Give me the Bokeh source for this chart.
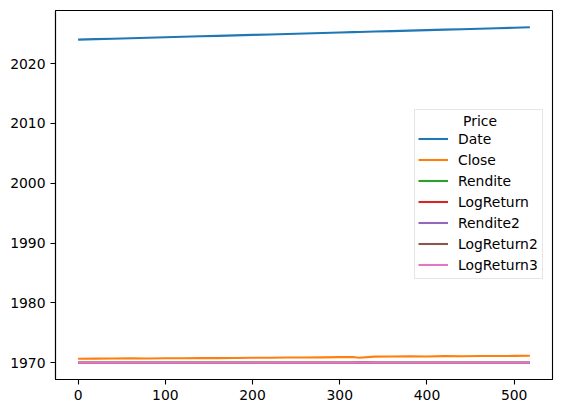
from datetime import date
from bokeh.plotting import figure
from bokeh.models import Range1d, FixedTicker, Legend, LegendItem, ColumnDataSource, Label
from bokeh.embed import file_html
from bokeh.resources import INLINE

# ---- data (sampled rows of the DataFrame, y in matplotlib date units = days) ----
idx = [0, 20, 40, 60, 80, 100, 120, 140, 160, 180, 200, 220, 240, 260, 280,
       300, 315, 322, 340, 360, 380, 400, 420, 440, 460, 480, 500, 518]
dates = ["2024-01-02", "2024-01-31", "2024-02-29", "2024-03-28", "2024-04-26",
         "2024-05-24", "2024-06-24", "2024-07-23", "2024-08-21", "2024-09-19",
         "2024-10-18", "2024-11-15", "2024-12-13", "2025-01-14", "2025-02-12",
         "2025-03-13", "2025-04-03", "2025-04-14", "2025-05-09", "2025-06-06",
         "2025-07-07", "2025-08-05", "2025-09-03", "2025-10-02", "2025-10-31",
         "2025-11-28", "2025-12-29", "2026-01-26"]
close = [245, 250, 255, 262, 258, 268, 275, 280, 278, 290, 300, 305, 315, 320,
         325, 340, 345, 300, 370, 375, 385, 380, 400, 398, 405, 408, 415, 425]
rendite = [0.0, 0.004, -0.006, 0.008, -0.012, 0.005, 0.003, -0.002, 0.007, 0.004,
           0.006, -0.003, 0.002, 0.005, -0.004, -0.008, -0.02, 0.03, 0.006, 0.002,
           0.004, -0.005, 0.007, -0.001, 0.003, 0.002, 0.004, 0.006]
logreturn = [0.0, 0.004, -0.006, 0.008, -0.012, 0.005, 0.003, -0.002, 0.007, 0.004,
             0.006, -0.003, 0.002, 0.005, -0.004, -0.008, -0.02, 0.029, 0.006, 0.002,
             0.004, -0.005, 0.007, -0.001, 0.003, 0.002, 0.004, 0.006]
rendite2 = [0.0, 0.4, -0.6, 0.8, -1.2, 0.5, 0.3, -0.2, 0.7, 0.4,
            0.6, -0.3, 0.2, 0.5, -0.4, -0.8, -2.0, 3.0, 0.6, 0.2,
            0.4, -0.5, 0.7, -0.1, 0.3, 0.2, 0.4, 0.6]
logreturn2 = [0.0, 0.4, -0.6, 0.8, -1.2, 0.5, 0.3, -0.2, 0.7, 0.4,
              0.6, -0.3, 0.2, 0.5, -0.4, -0.8, -2.0, 2.9, 0.6, 0.2,
              0.4, -0.5, 0.7, -0.1, 0.3, 0.2, 0.4, 0.6]
logreturn3 = [0.0, 0.4, -0.6, 0.8, -1.2, 0.5, 0.3, -0.2, 0.7, 0.4,
              0.6, -0.3, 0.2, 0.5, -0.4, -0.8, -2.0, 2.9, 0.6, 0.2,
              0.4, -0.5, 0.7, -0.1, 0.3, 0.2, 0.4, 0.6]
series_names = ["Date", "Close", "Rendite", "LogReturn", "Rendite2", "LogReturn2", "LogReturn3"]
colors = ["#1f77b4", "#ff7f0e", "#2ca02c", "#d62728", "#9467bd", "#8c564b", "#e377c2"]
legend_title = "Price"
year_ticks = ["1970", "1980", "1990", "2000", "2010", "2020"]
x_ticks = [0, 100, 200, 300, 400, 500]

EPOCH = date(1970, 1, 1)
def days(s):
    return (date.fromisoformat(s) - EPOCH).days

date_days = [days(d) for d in dates]
cols = [date_days, close, rendite, logreturn, rendite2, logreturn2, logreturn3]

src = ColumnDataSource({"x": idx, **{n: c for n, c in zip(series_names, cols)}})

all_y = [v for c in cols for v in c]
ymin, ymax = min(all_y), max(all_y)
ypad = (ymax - ymin) * 0.05
xmin, xmax = min(idx), max(idx)
xpad = (xmax - xmin) * 0.05
x0, x1 = xmin - xpad, xmax + xpad
y0, y1 = ymin - ypad, ymax + ypad

FW, FH, BL, BT = 497, 369, 55, 10
p = figure(frame_width=FW, frame_height=FH, output_backend="svg", toolbar_location=None,
           x_range=Range1d(x0, x1), y_range=Range1d(y0, y1),
           min_border_left=BL, min_border_top=BT, min_border_right=8, min_border_bottom=20)
p.background_fill_color = "white"
p.border_fill_color = "white"
p.outline_line_color = "black"
p.outline_line_width = 1.1
p.xgrid.visible = False
p.ygrid.visible = False

tick_days = [days(y + "-01-01") for y in year_ticks]
p.yaxis.ticker = FixedTicker(ticks=tick_days)
p.yaxis.major_label_overrides = {d: y for d, y in zip(tick_days, year_ticks)}
p.xaxis.ticker = FixedTicker(ticks=x_ticks)
for ax in (p.xaxis, p.yaxis):
    ax.axis_line_color = "black"
    ax.axis_line_width = 1.1
    ax.major_tick_line_color = "black"
    ax.major_tick_line_width = 1.1
    ax.major_tick_out = 5
    ax.major_tick_in = 0
    ax.minor_tick_out = 0
    ax.minor_tick_in = 0
    ax.major_label_text_font = "DejaVu Sans"
    ax.major_label_text_font_size = "13.9px"
    ax.major_label_text_color = "black"
    ax.major_label_standoff = 5

items = []
for n, c in zip(series_names, colors):
    r = p.line("x", n, source=src, line_color=c, line_width=2.08, line_join="round")
    items.append(LegendItem(label=n, renderers=[r]))

LX, LY, LW = 359, 100, 131
legend = Legend(items=items, location=(LX, LY), title=legend_title,
                title_text_font="DejaVu Sans", title_text_font_size="12px",
                title_text_font_style="normal", title_text_color=None, title_standoff=1,
                label_text_font="DejaVu Sans", label_text_font_size="13.9px",
                label_text_color="black",
                glyph_width=30, glyph_height=21, label_height=21, label_width=81,
                label_standoff=10, spacing=0, padding=3,
                border_line_color="#cccccc", border_line_width=1.1,
                background_fill_color="white", background_fill_alpha=0.0)
p.add_layout(legend)

# centred legend title (matplotlib style)
title_px_x = LX + LW / 2
title_px_y_from_top = 120 - BT
tx = x0 + title_px_x / FW * (x1 - x0)
ty = y1 - title_px_y_from_top / FH * (y1 - y0)
p.add_layout(Label(x=tx, y=ty, text=legend_title, text_align="center", text_baseline="middle",
                   text_font="DejaVu Sans", text_font_size="13.9px", text_font_style="normal",
                   text_color="black"))

open("out.html", "w").write(file_html(p, INLINE))
